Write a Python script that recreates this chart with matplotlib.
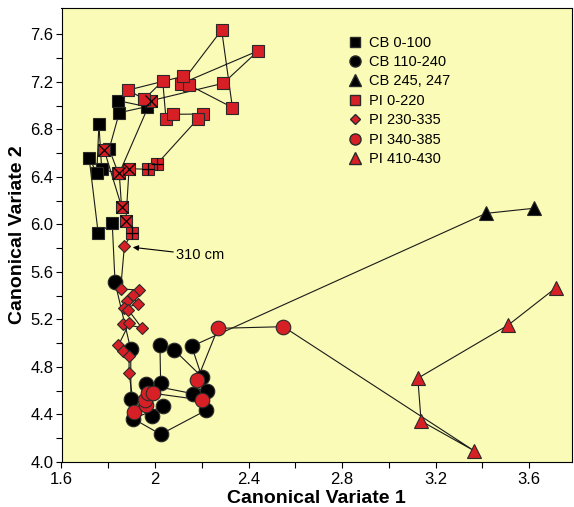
import numpy as np
import matplotlib.pyplot as plt
from matplotlib.lines import Line2D

plt.rcParams['font.family'] = ['Liberation Sans', 'DejaVu Sans']

# CB core, samples in order down the core
cb_sq_x = [1.843, 1.964, 1.847, 1.804, 1.843, 1.772, 1.760, 1.751, 1.718, 1.757, 1.817]
cb_sq_y = [7.041, 6.991, 6.940, 6.635, 6.430, 6.464, 6.843, 6.430, 6.561, 5.925, 6.009]

cb_ci_x = [1.829, 1.896, 1.897, 1.987, 2.035, 1.907, 2.024, 2.217, 2.221, 2.162,
           1.961, 2.024, 2.021, 2.082, 2.200, 2.157]
cb_ci_y = [5.513, 4.949, 4.529, 4.391, 4.471, 4.364, 4.233, 4.434, 4.594, 4.575,
           4.654, 4.665, 4.985, 4.943, 4.718, 4.974]

cb_tr_x = [3.416, 3.622]
cb_tr_y = [6.093, 6.136]

# PI core
pi_sq_x = [1.783, 1.857, 1.847, 1.982, 2.292, 2.442, 2.110, 2.285, 2.331, 2.145, 2.121, 1.886,
           1.953, 2.033, 2.047, 2.076, 2.206, 2.184, 2.008, 1.970, 1.889, 1.875, 1.903]
pi_sq_y = [6.624, 6.149, 6.430, 7.041, 7.188, 7.462, 7.183, 7.636, 6.984, 7.173, 7.247, 7.131,
           7.053, 7.207, 6.885, 6.927, 6.929, 6.890, 6.508, 6.464, 6.469, 6.026, 5.930]
pi_sq_cross = [0, 1, 2, 3, 20, 21]   # squares drawn with an X
pi_sq_grid = [18, 19, 22]            # squares drawn with a +

pi_di_x = [1.869, 1.853, 1.933, 1.879, 1.905, 1.926, 1.869, 1.886, 1.943, 1.864, 1.890,
           1.843, 1.862, 1.889, 1.889]
pi_di_y = [5.818, 5.456, 5.448, 5.359, 5.406, 5.330, 5.296, 5.279, 5.130, 5.162, 5.168,
           4.981, 4.937, 4.896, 4.749]

pi_ci_x = [1.912, 1.961, 1.959, 1.968, 1.993, 2.200, 2.180, 2.269, 2.549]
pi_ci_y = [4.421, 4.480, 4.522, 4.581, 4.578, 4.522, 4.690, 5.125, 5.139]

pi_tr_x = [3.366, 3.138, 3.124, 3.511, 3.715]
pi_tr_y = [4.093, 4.345, 4.705, 5.153, 5.467]

labels = ["CB 0-100", "CB 110-240", "CB 245, 247", "PI 0-220", "PI 230-335", "PI 340-385", "PI 410-430"]

red = "#d71f26"
edge = "#2a2a2a"

fig = plt.figure(figsize=(5.74, 5.07), dpi=100)
ax = fig.add_axes([61.5 / 574, 45 / 507, 510.5 / 574, 454 / 507])
ax.set_facecolor("#f9fbb6")

# trajectories
cb_x = cb_sq_x + cb_ci_x + cb_tr_x
cb_y = cb_sq_y + cb_ci_y + cb_tr_y
pi_x = pi_sq_x + pi_di_x + pi_ci_x + pi_tr_x
pi_y = pi_sq_y + pi_di_y + pi_ci_y + pi_tr_y
ax.plot(cb_x, cb_y, color="#1a1a1a", lw=0.8, zorder=1)
ax.plot(pi_x, pi_y, color="#1a1a1a", lw=0.8, zorder=1)

mk = dict(ls="none", markeredgecolor=edge, markeredgewidth=0.8, zorder=3)
ax.plot(cb_sq_x, cb_sq_y, marker="s", ms=8.5, color="black", **mk)
ax.plot(cb_ci_x, cb_ci_y, marker="o", ms=10.5, color="black", **mk)
ax.plot(cb_tr_x, cb_tr_y, marker="^", ms=10, color="black", **mk)
ax.plot(pi_sq_x, pi_sq_y, marker="s", ms=8.5, color=red, **mk)
ax.plot(pi_di_x, pi_di_y, marker="D", ms=6, color=red, **mk)
ax.plot(pi_ci_x, pi_ci_y, marker="o", ms=10.5, color=red, **mk)
ax.plot(pi_tr_x, pi_tr_y, marker="^", ms=10, color=red, **mk)

cx = [pi_sq_x[i] for i in pi_sq_cross]
cy = [pi_sq_y[i] for i in pi_sq_cross]
ax.plot(cx, cy, ls="none", marker="x", ms=8, mew=0.9, color="black", zorder=4)
gx = [pi_sq_x[i] for i in pi_sq_grid]
gy = [pi_sq_y[i] for i in pi_sq_grid]
ax.plot(gx, gy, ls="none", marker="+", ms=8.5, mew=0.9, color="black", zorder=4)

ax.annotate("310 cm", xy=(1.905, 5.807), xytext=(2.09, 5.742), fontsize=10.5, va="center",
            arrowprops=dict(arrowstyle="-|>", color="black", lw=0.8, mutation_scale=8,
                            shrinkA=0, shrinkB=0))

ax.set_xlim(1.6, 1.6 + 510.5 / 233.8)
ax.set_ylim(4.0, 4.0 + 454 / 118.8)
ax.set_xticks(np.arange(1.6, 3.7, 0.4))
ax.set_xticklabels(["1.6", "2", "2.4", "2.8", "3.2", "3.6"])
ax.set_xticks(np.arange(1.8, 3.7, 0.4), minor=True)
ax.set_yticks(np.arange(4.0, 7.7, 0.4))
ax.set_yticklabels(["%.1f" % v for v in np.arange(4.0, 7.7, 0.4)])
ax.set_yticks(np.arange(4.2, 7.7, 0.4), minor=True)
ax.tick_params(which="both", direction="out", length=4, width=0.8, labelsize=12)
ax.tick_params(axis="y", pad=2)
ax.set_xlabel("Canonical Variate 1", fontsize=14, fontweight="bold", labelpad=2)
ax.set_ylabel("Canonical Variate 2", fontsize=14, fontweight="bold", labelpad=3)

handles = [
    Line2D([], [], ls="none", marker="s", ms=7, color="black", markeredgecolor=edge),
    Line2D([], [], ls="none", marker="o", ms=8, color="black", markeredgecolor=edge),
    Line2D([], [], ls="none", marker="^", ms=8, color="black", markeredgecolor=edge),
    Line2D([], [], ls="none", marker="s", ms=7, color=red, markeredgecolor=edge),
    Line2D([], [], ls="none", marker="D", ms=5, color=red, markeredgecolor=edge),
    Line2D([], [], ls="none", marker="o", ms=8, color=red, markeredgecolor=edge),
    Line2D([], [], ls="none", marker="^", ms=8, color=red, markeredgecolor=edge),
]
ax.legend(handles, labels, loc="upper left", bbox_to_anchor=(0.55, 0.952), frameon=False,
          fontsize=10.5, handlelength=1.0, handletextpad=0.4, labelspacing=0.37, borderaxespad=0)

fig.savefig("out.png", dpi=100)
